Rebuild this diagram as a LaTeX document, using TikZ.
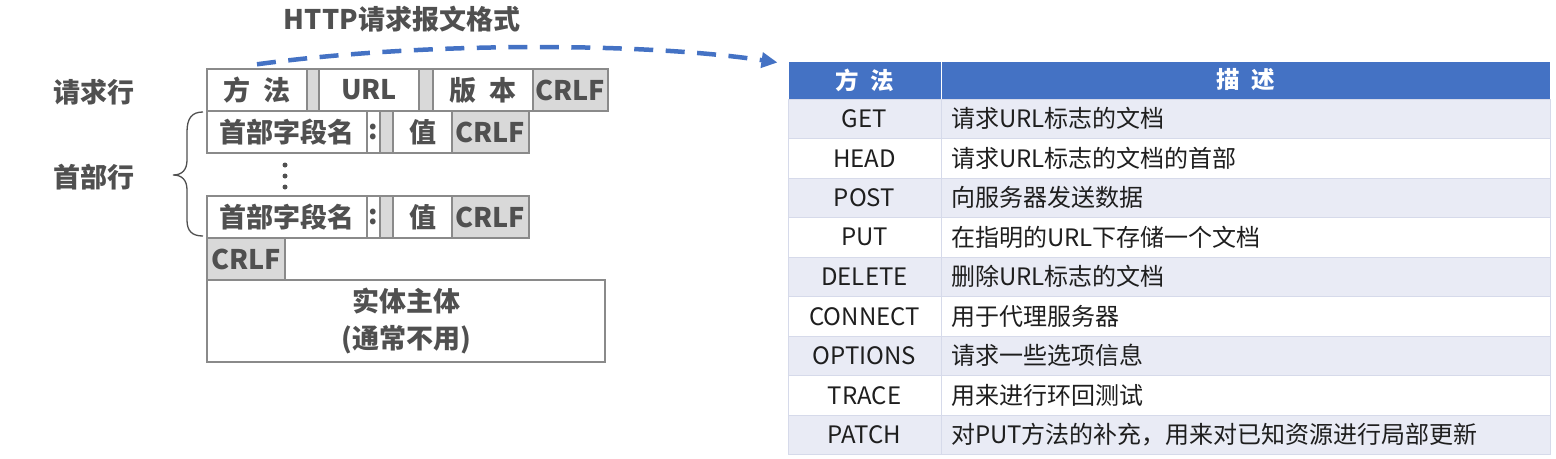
\documentclass[tikz,border=0pt]{standalone}
\usepackage{fontspec}
\setmainfont{Noto Sans CJK SC}
\usetikzlibrary{arrows.meta}
\definecolor{txt}{HTML}{505050}
\definecolor{boxline}{HTML}{8A8A8A}
\definecolor{grayfill}{HTML}{D9D9D9}
\definecolor{hblue}{HTML}{4472C4}
\definecolor{rowA}{HTML}{E9EBF5}
\definecolor{rowB}{HTML}{FFFFFF}
\definecolor{tline}{HTML}{D6DAEA}
\definecolor{ttxt}{HTML}{1E1E1E}
\begin{document}
\begin{tikzpicture}[x=1pt,y=-1pt,
  cellbox/.style={draw=boxline, line width=1.4pt, fill=white, minimum height=42pt, inner sep=0pt,
    font=\bfseries\fontsize{27}{30}\selectfont, text=txt},
  graybox/.style={cellbox, fill=grayfill},
  lbl/.style={inner sep=0pt, font=\bfseries\fontsize{27}{30}\selectfont, text=txt},
  hdr/.style={fill=hblue, draw=white, line width=1pt, minimum height=38pt, inner sep=0pt,
    font=\bfseries\fontsize{23.5}{26}\selectfont, text=white},
  mcell/.style={draw=tline, line width=0.8pt, minimum width=153pt, minimum height=39.5pt, inner sep=0pt,
    font=\fontsize{24}{26}\selectfont, text=ttxt},
  dcell/.style={mcell, minimum width=609pt, text width=589pt, inner xsep=10pt, align=left},
  dotn/.style={circle, fill=txt, inner sep=0pt, minimum size=5pt},
  arc/.style={hblue, line width=4.5pt, dash pattern=on 19pt off 12.5pt},
  braceline/.style={draw=txt, line width=1.3pt}
]
\useasboundingbox (0,0) rectangle (1556,458);

% title
\node[lbl] (title) at (402,19) {HTTP请求报文格式};

% side labels
\node[lbl] (lreq) at (94,92) {请求行};
\node[lbl] (lhead) at (94,177) {首部行};

% row 1: request line
\node[cellbox, minimum width=100pt] (meth) at (257,90) {方\hspace{0.5em}法};
\node[graybox, minimum width=12pt] (g1) at (313,90) {};
\node[cellbox, minimum width=100pt] (url) at (369,90) {URL};
\node[graybox, minimum width=13pt] (g2) at (426,90) {};
\node[cellbox, minimum width=100pt] (ver) at (483,90) {版\hspace{0.5em}本};
\node[graybox, minimum width=75pt] (cr1) at (570.5,90) {CRLF};

% row 2: header line
\node[cellbox, minimum width=160pt] (h1) at (287,132) {首部字段名};
\node[cellbox, minimum width=13pt] (c1) at (373.5,132) {:};
\node[graybox, minimum width=13pt] (g3) at (386.5,132) {};
\node[cellbox, minimum width=59pt] (v1) at (422.5,132) {值};
\node[graybox, minimum width=77pt] (cr2) at (490.5,132) {CRLF};

% dots
\node[dotn] (dot1) at (285,165) {};
\node[dotn] (dot2) at (285,176) {};
\node[dotn] (dot3) at (285,187) {};

% row 3: header line
\node[cellbox, minimum width=160pt] (h2) at (287,217) {首部字段名};
\node[cellbox, minimum width=13pt] (c2) at (373.5,217) {:};
\node[graybox, minimum width=13pt] (g4) at (386.5,217) {};
\node[cellbox, minimum width=59pt] (v2) at (422.5,217) {值};
\node[graybox, minimum width=77pt] (cr3) at (490.5,217) {CRLF};

% blank line
\node[graybox, minimum width=78pt] (cr4) at (246,259) {CRLF};

% entity body
\node[cellbox, minimum width=398pt, minimum height=82pt, align=center,
  font=\bfseries\fontsize{27}{37}\selectfont] (body) at (406,321) {实体主体\\(通常不用)};

% brace
\draw[braceline] (203,112) .. controls (192,112) and (187,118) .. (187,132) -- (187,160)
  .. controls (187,170) and (182,175) .. (173,175)
  .. controls (182,175) and (187,180) .. (187,190) -- (187,220)
  .. controls (187,231) and (192,236) .. (203,236);

% table header
\node[hdr, minimum width=153pt] (hm) at (864.5,80) {方\hspace{0.5em}法};
\node[hdr, minimum width=609pt] (hd) at (1245.5,80) {描\hspace{0.5em}述};

% table rows
\foreach \m/\d/\f [count=\i] in {
  GET/请求URL标志的文档/rowA,
  HEAD/请求URL标志的文档的首部/rowB,
  POST/向服务器发送数据/rowA,
  PUT/在指明的URL下存储一个文档/rowB,
  DELETE/删除URL标志的文档/rowA,
  CONNECT/用于代理服务器/rowB,
  OPTIONS/请求一些选项信息/rowA,
  TRACE/用来进行环回测试/rowB,
  PATCH/对PUT方法的补充，用来对已知资源进行局部更新/rowA} {
  \pgfmathsetmacro\yc{99+39.5*(\i-0.5)}
  \node[mcell, fill=\f] (tm\i) at (864.5,\yc) {\m};
  \node[dcell, fill=\f] (td\i) at (1245.5,\yc) {\d};
}

% dashed arrow
\coordinate (arcS) at ([yshift=4pt]meth.north);
\coordinate (arcE) at ([xshift=-10pt,yshift=-2pt]hm.north west);
\draw[arc, -{Triangle[length=16pt,width=15pt]}] (arcS) .. controls (420,42) and (640,42) .. (arcE);
\end{tikzpicture}
\end{document}
